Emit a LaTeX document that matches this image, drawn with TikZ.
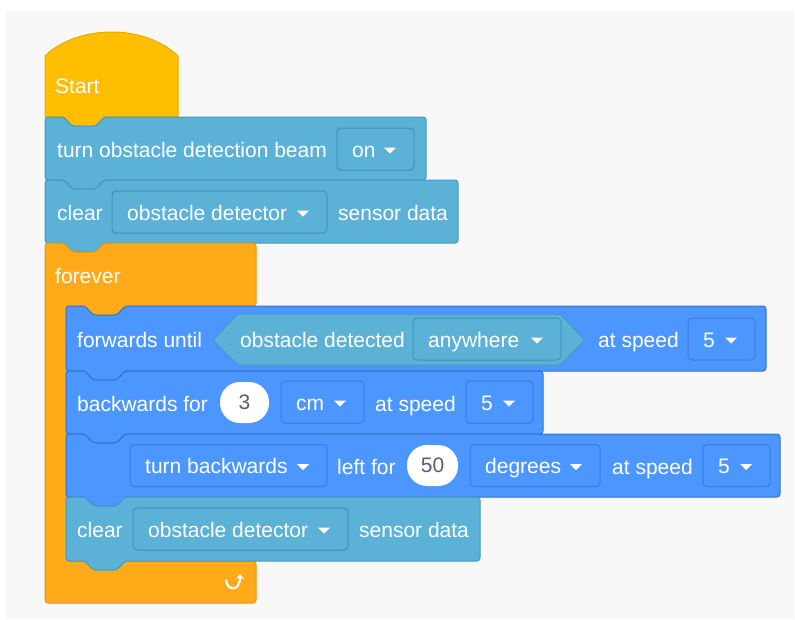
\documentclass[tikz,border=0pt]{standalone}
\usepackage{fontspec}
\setmainfont{Liberation Sans}
\usetikzlibrary{arrows.meta}
\definecolor{bggray}{HTML}{F8F8F8}
\definecolor{startfill}{HTML}{FFBF00}
\definecolor{startline}{HTML}{E6AC00}
\definecolor{tealfill}{HTML}{5CB1D6}
\definecolor{tealline}{HTML}{3E9DC6}
\definecolor{tealdd}{HTML}{3C94BC}
\definecolor{bluefill}{HTML}{4C97FF}
\definecolor{blueline}{HTML}{3373CC}
\definecolor{bluedd}{HTML}{3A7DDB}
\definecolor{orangefill}{HTML}{FFAB19}
\definecolor{orangeline}{HTML}{E39712}
\definecolor{numtext}{HTML}{575E75}
\newcommand\blkfont{\fontsize{21}{25}\selectfont}
\tikzset{
  txt/.style={font=\blkfont, text=white, inner sep=0pt, anchor=base west},
  ddshape/.style={rectangle, rounded corners=4pt, minimum height=42pt, inner sep=0pt, line width=1pt},
  ovalshape/.style={rectangle, rounded corners=20pt, minimum height=41pt, inner sep=0pt, fill=white, font=\blkfont, text=numtext},
  tealblock/.style={fill=tealfill, draw=tealline, line width=1pt, rounded corners=3pt},
  blueblock/.style={fill=bluefill, draw=blueline, line width=1pt, rounded corners=3pt},
  orangeblock/.style={fill=orangefill, draw=orangeline, line width=1pt, rounded corners=3pt},
  startblock/.style={fill=startfill, draw=startline, line width=1pt}
}
\newcommand\stackblock[5]{%
  \filldraw[#5] (#1,#2) -- ({#1+19},#2) -- ({#1+27},{#2+9}) -- ({#1+51},{#2+9}) -- ({#1+59},#2)
    -- (#3,#2) -- (#3,#4) -- ({#1+59},#4) -- ({#1+51},{#4+9}) -- ({#1+27},{#4+9}) -- ({#1+19},#4)
    -- (#1,#4) -- cycle;}
\newcommand\ddbox[7]{%
  \node[ddshape, fill=#6, draw=#7, minimum width={#3-#2}] (#1) at ({(#2+#3)/2},#4) {};
  \node[txt] (#1-label) at ({#2+15},{#4+8}) {#5};
  \fill[white] ({#3-30},{#4-1.5}) -- ++(12,0) -- ++(-6,6) -- cycle;}
\newcommand\ovalin[5]{%
  \node[ovalshape, minimum width={#3-#2}] (#1) at ({(#2+#3)/2},#4) {#5};}
\begin{document}
\begin{tikzpicture}[x=1pt, y=-1pt]
\useasboundingbox (0,0) rectangle (795,619);
\fill[bggray] (6,11) rectangle (794,619);

% Start hat
\filldraw[startblock] (45,117) -- (45,56) .. controls (78,24) and (145,24) .. (178,56)
  -- (178,117) -- (104,117) -- (96,126) -- (72,126) -- (64,117) -- cycle;
\node[txt] (start) at (55,93) {Start};

% block 1
\stackblock{45}{117}{426}{180}{tealblock}
\node[txt] (b1) at (57,157) {turn obstacle detection beam};
\ddbox{dd1}{337}{414}{149}{on}{tealfill}{tealdd}

% block 2
\stackblock{45}{180}{458}{243}{tealblock}
\node[txt] (b2a) at (57,220) {clear};
\ddbox{dd2}{112}{327}{212}{obstacle detector}{tealfill}{tealdd}
\node[txt] (b2b) at (338,220) {sensor data};

% forever
\filldraw[orangeblock] (45,243) -- (64,243) -- (72,252) -- (96,252) -- (104,243) -- (256,243)
  -- (256,306) -- (125,306) -- (117,315) -- (93,315) -- (85,306) -- (66,306)
  -- (66,561) -- (256,561) -- (256,603) -- (45,603) -- cycle;
\node[txt] (forever) at (55,283) {forever};
\draw[white, line width=2.2pt, line cap=round, -{Stealth[length=5pt,width=8pt]}]
  (226,580) .. controls (227,591) and (240,592) .. (240,574);

% block 3
\stackblock{66}{306}{766}{371}{blueblock}
\node[txt] (b3a) at (77,347) {forwards until};
\filldraw[fill=tealfill, draw=tealline, line width=1pt, rounded corners=2pt]
  (213,340) -- (238,314) -- (560,314) -- (585,340) -- (560,365) -- (238,365) -- cycle;
\node[txt] (b3b) at (240,347) {obstacle detected};
\ddbox{dd3}{413}{561}{339}{anywhere}{tealfill}{tealdd}
\node[txt] (b3c) at (598,347) {at speed};
\ddbox{dd4}{688}{755}{339}{5}{bluefill}{bluedd}

% block 4
\stackblock{66}{371}{543}{434}{blueblock}
\node[txt] (b4a) at (77,411) {backwards for};
\ovalin{ov1}{220}{269}{402.5}{3}
\ddbox{dd5}{281}{364}{402}{cm}{bluefill}{bluedd}
\node[txt] (b4b) at (375,411) {at speed};
\ddbox{dd6}{466}{533}{402}{5}{bluefill}{bluedd}

% block 5
\stackblock{66}{434}{780}{497}{blueblock}
\ddbox{dd7}{130}{327}{465.5}{turn backwards}{bluefill}{bluedd}
\node[txt] (b5a) at (337,474) {left for};
\ovalin{ov2}{407}{458}{465.5}{50}
\ddbox{dd8}{470}{600}{465.5}{degrees}{bluefill}{bluedd}
\node[txt] (b5b) at (612,474) {at speed};
\ddbox{dd9}{703}{770}{465.5}{5}{bluefill}{bluedd}

% block 6
\stackblock{66}{497}{480}{561}{tealblock}
\node[txt] (b6a) at (77,537) {clear};
\ddbox{dd10}{133}{348}{529}{obstacle detector}{tealfill}{tealdd}
\node[txt] (b6b) at (359,537) {sensor data};
\end{tikzpicture}
\end{document}
